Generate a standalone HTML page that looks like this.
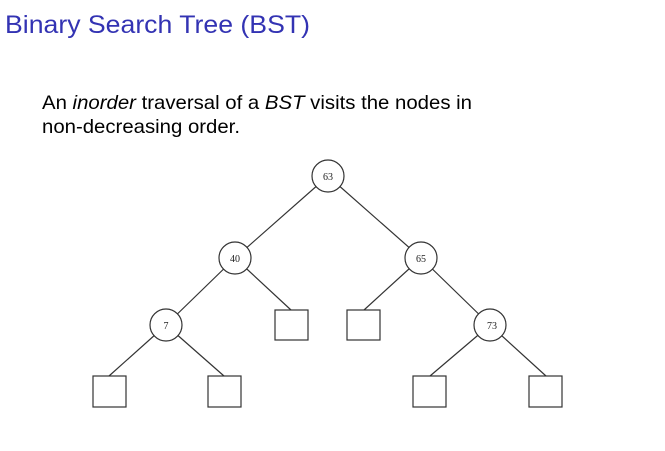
<!DOCTYPE html>
<html><head><style>html,body{margin:0;padding:0;background:#fff;}svg{display:block}</style></head>
<body>
<svg width="665" height="451" xmlns="http://www.w3.org/2000/svg">
<text x="5" y="33" font-family="Liberation Sans, sans-serif" font-size="25" fill="#3333b3" textLength="305" lengthAdjust="spacingAndGlyphs">Binary Search Tree (BST)</text>
<text x="42" y="109" font-family="Liberation Sans, sans-serif" font-size="19.5" fill="#000" textLength="430" lengthAdjust="spacingAndGlyphs">An <tspan font-style="italic">inorder</tspan> traversal of a <tspan font-style="italic">BST</tspan> visits the nodes in</text>
<text x="42" y="133" font-family="Liberation Sans, sans-serif" font-size="19.5" fill="#000" textLength="198" lengthAdjust="spacingAndGlyphs">non-decreasing order.</text>
<g stroke="#333" stroke-width="1.2" fill="none">
<line x1="328" y1="176" x2="235" y2="258"/>
<line x1="328" y1="176" x2="421" y2="258"/>
<line x1="235" y1="258" x2="166" y2="325"/>
<line x1="235" y1="258" x2="291" y2="310"/>
<line x1="421" y1="258" x2="364" y2="310"/>
<line x1="421" y1="258" x2="490" y2="325"/>
<line x1="166" y1="325" x2="109" y2="376"/>
<line x1="166" y1="325" x2="224" y2="376"/>
<line x1="490" y1="325" x2="430" y2="376"/>
<line x1="490" y1="325" x2="546" y2="376"/>
</g>
<g stroke="#333" stroke-width="1.2" fill="#fff">
<circle cx="328" cy="176" r="16"/>
<circle cx="235" cy="258" r="16"/>
<circle cx="421" cy="258" r="16"/>
<circle cx="166" cy="325" r="16"/>
<circle cx="490" cy="325" r="16"/>
<rect x="275" y="310" width="33" height="30"/>
<rect x="347" y="310" width="33" height="30"/>
<rect x="93" y="376" width="33" height="31"/>
<rect x="208" y="376" width="33" height="31"/>
<rect x="413" y="376" width="33" height="31"/>
<rect x="529" y="376" width="33" height="31"/>
</g>
<g font-family="Liberation Serif, serif" font-size="10" fill="#222" text-anchor="middle">
<text x="328" y="180">63</text>
<text x="235" y="262">40</text>
<text x="421" y="262">65</text>
<text x="166" y="329">7</text>
<text x="492" y="329">73</text>
</g>
</svg>
</body></html>
